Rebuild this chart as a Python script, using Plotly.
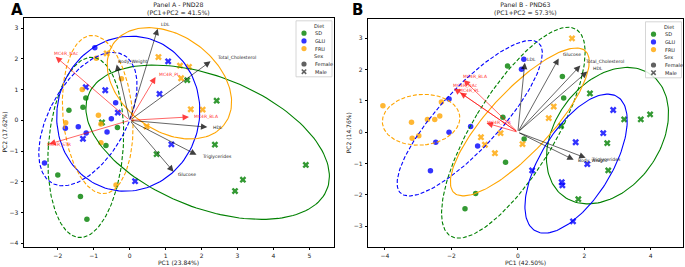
import numpy as np
import plotly.graph_objects as go

# ---------------- data ----------------
# Panel A (PND28) scores
A_pc1 = [-1.22, -1.30, -1.69, -0.34, -0.66, -2.00, -1.37, -1.19,
         2.42, 1.60, -0.77, 0.75, 2.37, 4.90, 3.15, 2.93,
         -0.97, -0.39, -0.51, -1.79, -1.43, -1.21, -0.63, -2.37,
         -1.22, -0.68, 1.07, 0.83, -0.33, -1.30, 1.16, 0.15,
         -0.93, -0.23, -1.32, -0.87, -1.78, -0.80, -0.80, -0.38,
         -0.64, 0.80, 1.40, 1.65, 1.43, 1.70, 2.03, 0.47]
A_pc2 = [0.73, 0.43, 0.33, -0.23, -0.82, -1.78, -2.48, -3.22,
         0.64, 1.31, -0.07, -1.10, -0.79, -1.45, -1.93, -2.30,
         2.36, 0.57, 0.05, -0.26, -0.21, -0.41, -0.38, -1.39,
         1.08, 0.98, 1.92, 0.86, 0.25, -0.60, -0.78, -1.98,
         2.02, 1.35, 1.00, 0.17, -0.08, -0.12, -0.73, -2.10,
         2.18, 2.06, 1.78, 1.74, 1.37, 0.36, 0.35, -0.20]
# Panel B (PND63) scores
B_pc1 = [-0.31, 1.34, 1.38, -0.45, 0.19, -0.37, -1.27, -1.59,
         2.17, 3.20, 3.70, 3.98, 1.30, 2.69, 2.72, 1.82,
         0.18, 0.11, -2.07, -1.42, -2.07, -2.47, -1.21, -2.63,
         2.87, 2.57, 1.74, 2.09, 0.43, 1.32, 1.34, 1.66,
         -4.06, -3.20, -2.72, -2.50, -2.35, -2.30, -3.18, -2.98,
         1.63, 1.08, 0.93, -0.52, -1.11, -0.99, -0.69, 0.14]
B_pc2 = [2.12, 1.78, 1.09, 0.48, -0.22, -0.96, -1.96, -2.45,
         1.24, 0.41, 0.41, 0.57, 0.20, -0.35, -1.22, -2.14,
         2.33, 2.01, 1.06, 0.18, 0.00, -0.32, -0.44, -1.23,
         0.71, -0.03, -0.32, -1.02, -1.22, -1.60, -1.70, -2.85,
         0.85, 0.32, 0.41, 0.41, 0.52, 0.97, -0.19, -0.11,
         3.00, 0.82, 0.45, -0.03, -0.16, -0.40, -0.67, -0.38]
diet = ["SD"] * 16 + ["GLU"] * 16 + ["FRU"] * 16
sex = (["Female"] * 8 + ["Male"] * 8) * 3

diets = ["SD", "GLU", "FRU"]
sexes = ["Female", "Male"]

# loadings (biplot arrows)
var_names = ["LDL", "Total_Cholesterol", "Body_Weight", "HDL", "Triglycerides", "Glucose"]
A_var_x = [0.78, 2.25, -0.36, 2.16, 1.86, 1.22]
A_var_y = [2.98, 1.92, 1.82, -0.22, -1.12, -1.67]
B_var_x = [0.21, 1.88, 1.68, 2.09, 2.04, 1.23]
B_var_y = [2.22, 2.13, -0.88, 1.94, -0.82, 2.36]

mc4r_names = ["MC4R_NAc", "MC4R_PL", "MC4R_BLA", "MC4R_STR"]
A_mc4r_x = [-2.06, 0.72, 1.65, -2.24]
A_mc4r_y = [2.07, 1.41, 0.11, -0.77]
B_mc4r_x = [-1.92, -1.74, -1.63, -0.94]
B_mc4r_y = [1.40, 1.27, 1.67, 0.29]

panel_titles = ["Panel A - PND28<br>(PC1+PC2 = 41.5%)", "Panel B - PND63<br>(PC1+PC2 = 57.3%)"]
xlabels = ["PC1 (23.84%)", "PC1 (42.50%)"]
ylabels = ["PC2 (17.62%)", "PC2 (14.76%)"]
panel_letters = ["A", "B"]
A_xticks = [-2, -1, 0, 1, 2, 3, 4, 5]
A_yticks = [-4, -3, -2, -1, 0, 1, 2, 3]
B_xticks = [-4, -2, 0, 2, 4]
B_yticks = [-3, -2, -1, 0, 1, 2, 3]

# ---------------- styles ----------------
W, H = 685, 267
FONT = "DejaVu Sans"
colors = {"SD": "green", "GLU": "blue", "FRU": "orange"}
rgba = {"SD": "rgba(0,128,0,0.8)", "GLU": "rgba(0,0,255,0.8)", "FRU": "rgba(255,165,0,0.8)"}
symbols = {"Female": "circle", "Male": "x"}


def pxx(x):
    return x / W


def pxy(y):
    return 1 - y / H


fig = go.Figure()

panels = [
    dict(pc1=A_pc1, pc2=A_pc2, vx=A_var_x, vy=A_var_y, mx=A_mc4r_x, my=A_mc4r_y,
         xa="x", ya="y", left=24.0, right=333.5, top=18.3, bottom=246.7,
         xr=[-2.94, 5.67], yr=[-4.11, 3.32], xt=A_xticks, yt=A_yticks),
    dict(pc1=B_pc1, pc2=B_pc2, vx=B_var_x, vy=B_var_y, mx=B_mc4r_x, my=B_mc4r_y,
         xa="x2", ya="y2", left=368.3, right=683.0, top=19.3, bottom=246.7,
         xr=[-4.50, 4.97], yr=[-3.66, 3.61], xt=B_xticks, yt=B_yticks),
]


def conf_ellipse(xs, ys, n_std=2.0, n=160):
    xs = np.asarray(xs, float)
    ys = np.asarray(ys, float)
    cov = np.cov(xs, ys)
    vals, vecs = np.linalg.eigh(cov)
    t = np.linspace(0, 2 * np.pi, n)
    circ = np.vstack([np.cos(t), np.sin(t)])
    pts = vecs @ (np.sqrt(np.maximum(vals, 0))[:, None] * circ) * n_std
    return xs.mean() + pts[0], ys.mean() + pts[1]


annotations = []
shapes = []
layout_axes = {}

for pi, P in enumerate(panels):
    xa, ya = P["xa"], P["ya"]
    pc1 = np.array(P["pc1"])
    pc2 = np.array(P["pc2"])
    d_arr = np.array(diet)
    s_arr = np.array(sex)
    # points
    for d in diets:
        for s in sexes:
            m = (d_arr == d) & (s_arr == s)
            fig.add_trace(go.Scatter(
                x=pc1[m], y=pc2[m], mode="markers", xaxis=xa, yaxis=ya,
                showlegend=False, hoverinfo="skip",
                marker=dict(symbol=symbols[s], size=5.5 if s == "Female" else 6,
                            color=rgba[d], line=dict(width=0))))
    # ellipses
    for d in diets:
        for s in sexes:
            m = (d_arr == d) & (s_arr == s)
            ex, ey = conf_ellipse(pc1[m], pc2[m])
            fig.add_trace(go.Scatter(
                x=ex, y=ey, mode="lines", xaxis=xa, yaxis=ya, showlegend=False,
                hoverinfo="skip",
                line=dict(color=colors[d], width=1.1,
                          dash="solid" if s == "Male" else "4px,2px")))
    xref, yref = xa, ya
    # arrows
    for names, vx, vy, col, tcol in [
        (var_names, P["vx"], P["vy"], "rgba(0,0,0,0.75)", "#222222"),
        (mc4r_names, P["mx"], P["my"], "rgba(255,0,0,0.75)", "rgba(255,0,0,0.85)"),
    ]:
        for nm, x, y in zip(names, vx, vy):
            annotations.append(dict(
                x=x, y=y, ax=0, ay=0, xref=xref, yref=yref, axref=xref, ayref=yref,
                text="", showarrow=True, arrowhead=2, arrowsize=1.6, arrowwidth=0.8,
                arrowcolor=col, standoff=0))
            annotations.append(dict(
                x=x * 1.05, y=y * 1.05, xref=xref, yref=yref, text=nm, showarrow=False,
                xanchor="left", yanchor="middle", font=dict(family=FONT, size=4.5, color=tcol)))

    # axes
    xdom = [pxx(P["left"]), pxx(P["right"])]
    ydom = [pxy(P["bottom"]), pxy(P["top"])]
    axis_common = dict(showline=True, mirror=True, linecolor="black", linewidth=0.8,
                       ticks="outside", ticklen=2.5, tickwidth=0.8, tickcolor="black",
                       showgrid=False, zeroline=False,
                       tickfont=dict(family=FONT, size=6, color="#222222"))
    xname = "xaxis" if pi == 0 else "xaxis2"
    yname = "yaxis" if pi == 0 else "yaxis2"
    layout_axes[xname] = dict(domain=xdom, range=P["xr"], tickvals=P["xt"], anchor=ya,
                              ticklabelstandoff=1, **axis_common)
    layout_axes[yname] = dict(domain=ydom, range=P["yr"], tickvals=P["yt"], anchor=xa,
                              ticklabelstandoff=1, **axis_common)

    cx = (P["left"] + P["right"]) / 2
    cy = (P["top"] + P["bottom"]) / 2
    # title
    annotations.append(dict(x=pxx(cx), y=pxy(9), xref="paper", yref="paper",
                            text=panel_titles[pi], showarrow=False, xanchor="center",
                            yanchor="middle", font=dict(family=FONT, size=6.2, color="#222222")))
    # axis labels
    annotations.append(dict(x=pxx(cx), y=pxy(262.5), xref="paper", yref="paper",
                            text=xlabels[pi], showarrow=False, xanchor="center",
                            yanchor="middle", font=dict(family=FONT, size=6, color="#222222")))
    annotations.append(dict(x=pxx(P["left"] - 20), y=pxy(cy), xref="paper", yref="paper",
                            text=ylabels[pi], showarrow=False, textangle=-90, xanchor="center",
                            yanchor="middle", font=dict(family=FONT, size=6, color="#222222")))
    # panel letter
    annotations.append(dict(x=pxx(P["left"] - 7 if pi == 0 else P["left"] - 11), y=pxy(10.5),
                            xref="paper", yref="paper",
                            text="<b>%s</b>" % panel_letters[pi], showarrow=False,
                            xanchor="center", yanchor="middle",
                            font=dict(family=FONT, size=15, color="black")))

    # legend (drawn manually to match compact matplotlib legend)
    bx1 = P["right"] - 1.5
    bx0 = bx1 - 36
    by0 = P["top"] + 2.5
    by1 = by0 + 56
    shapes.append(dict(type="rect", xref="paper", yref="paper",
                       x0=pxx(bx0), x1=pxx(bx1), y0=pxy(by1), y1=pxy(by0),
                       line=dict(color="#cccccc", width=0.8), fillcolor="rgba(255,255,255,0.85)",
                       layer="above"))
    rows = [("Diet", None, None), ("SD", "circle", rgba["SD"]), ("GLU", "circle", rgba["GLU"]),
            ("FRU", "circle", rgba["FRU"]), ("Sex", None, None),
            ("Female", "circle", "rgba(80,80,80,0.9)"), ("Male", "x", "rgba(80,80,80,0.9)")]
    for ri, (lab, sym, col) in enumerate(rows):
        ry = by0 + 4.7 + ri * 7.7
        mx = bx0 + 8
        if sym == "circle":
            shapes.append(dict(type="circle", xref="paper", yref="paper",
                               xsizemode="pixel", ysizemode="pixel",
                               xanchor=pxx(mx), yanchor=pxy(ry),
                               x0=-2.6, x1=2.6, y0=-2.6, y1=2.6,
                               fillcolor=col, line=dict(width=0), layer="above"))
        elif sym == "x":
            shapes.append(dict(type="path", xref="paper", yref="paper",
                               xsizemode="pixel", ysizemode="pixel",
                               xanchor=pxx(mx), yanchor=pxy(ry),
                               path="M-2.2,-2.2 L2.2,2.2 M-2.2,2.2 L2.2,-2.2",
                               line=dict(color=col, width=1.6), layer="above"))
        annotations.append(dict(x=pxx(bx0 + (16 if sym is None else 17)), y=pxy(ry),
                                xref="paper", yref="paper", text=lab, showarrow=False,
                                xanchor="left", yanchor="middle",
                                font=dict(family=FONT, size=5, color="#222222")))

fig.update_layout(
    width=W, height=H, margin=dict(l=0, r=0, t=0, b=0),
    paper_bgcolor="white", plot_bgcolor="white",
    showlegend=False, annotations=annotations, shapes=shapes,
    font=dict(family=FONT, size=6, color="#222222"),
    **layout_axes,
)

fig.write_html("out.html")
